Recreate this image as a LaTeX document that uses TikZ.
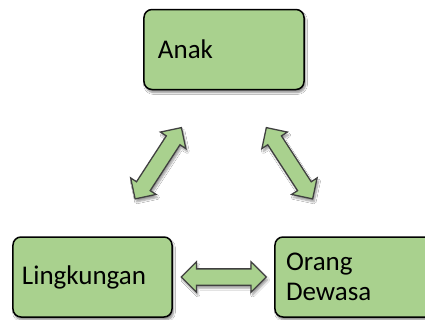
\documentclass[tikz,border=0pt]{standalone}
\usepackage{fontspec}
\setmainfont{Carlito}
\usetikzlibrary{shapes.arrows,shadows.blur,calc}
\definecolor{boxgreen}{RGB}{169,209,142}
\definecolor{arrowedge}{RGB}{64,64,64}
\begin{document}
\begin{tikzpicture}[x=1bp,y=-1bp,
  box/.style={draw=black, line width=1.5bp, fill=boxgreen, rounded corners=8bp,
    minimum height=80bp, align=left, inner ysep=0pt,
    font=\fontsize{27bp}{30bp}\selectfont,
    blur shadow={shadow xshift=1.5bp, shadow yshift=-3bp, shadow blur steps=6, shadow opacity=45}},
  link/.style={double arrow, draw=arrowedge, line width=1.3bp, fill=boxgreen,
    inner xsep=0pt, inner ysep=7.5bp, minimum width=29bp, minimum height=85bp,
    double arrow head extend=7bp, double arrow tip angle=90,
    blur shadow={shadow xshift=1.5bp, shadow yshift=-3bp, shadow blur steps=5, shadow opacity=40}}]
\clip (0,0) rectangle (425,320);
\fill[white] (0,0) rectangle (425,320);
\node[box, minimum width=160bp, inner xsep=14bp, text width=132bp] (anak) at (224,49.5) {Anak};
\node[box, minimum width=159bp, inner xsep=9bp, text width=141bp] (ling) at (92.5,277) {Lingkungan};
\node[box, minimum width=160bp, inner xsep=11bp, text width=138bp] (orang) at (355,277) {Orang\\Dewasa};
\node[link, rotate=57] (al) at ($(anak)!0.5!(ling)$) {};
\node[link, rotate=-57] (ar) at ($(anak)!0.5!(orang)$) {};
\node[link] (ab) at ($(ling)!0.5!(orang)$) {};
\end{tikzpicture}
\end{document}
